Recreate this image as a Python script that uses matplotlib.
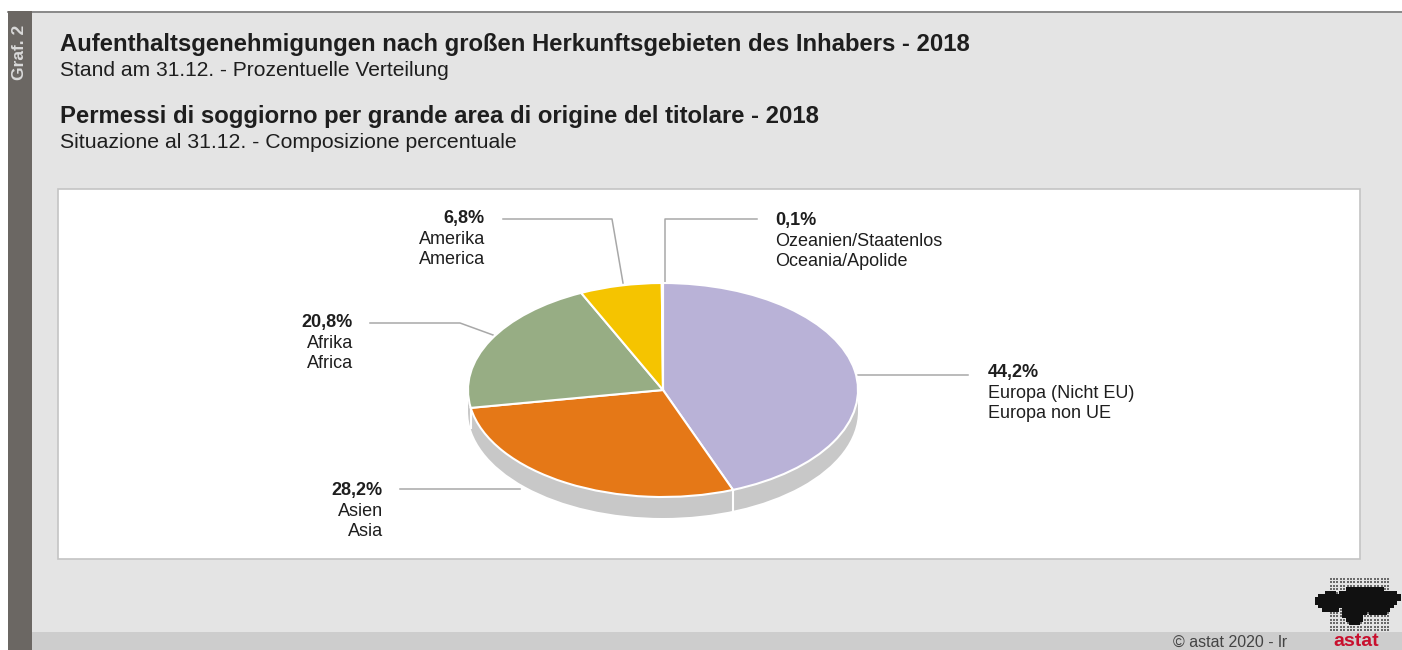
import matplotlib
matplotlib.use("Agg")
import matplotlib.pyplot as plt
from matplotlib.patches import Rectangle, Ellipse
import numpy as np

# ---------------- data ----------------
shares = [44.2, 28.2, 20.8, 6.8, 0.1]
pct_labels = ["44,2%", "28,2%", "20,8%", "6,8%", "0,1%"]
names_de = ["Europa (Nicht EU)", "Asien", "Afrika", "Amerika", "Ozeanien/Staatenlos"]
names_it = ["Europa non UE", "Asia", "Africa", "America", "Oceania/Apolide"]
colors = ["#B9B2D7", "#E57817", "#97AD84", "#F5C400", "#4A6FA5"]

title_de = "Aufenthaltsgenehmigungen nach großen Herkunftsgebieten des Inhabers - 2018"
sub_de = "Stand am 31.12. - Prozentuelle Verteilung"
title_it = "Permessi di soggiorno per grande area di origine del titolare - 2018"
sub_it = "Situazione al 31.12. - Composizione percentuale"

W, H = 1402, 650
FONT = "Liberation Sans"
plt.rcParams["font.family"] = [FONT, "DejaVu Sans"]

fig = plt.figure(figsize=(W / 100, H / 100), dpi=100)
fig.patch.set_facecolor("white")
bg = fig.add_axes([0, 0, 1, 1])
bg.set_xlim(0, W)
bg.set_ylim(H, 0)
bg.axis("off")

# page background
bg.add_patch(Rectangle((8, 11), W - 8, H - 11, facecolor="#E4E4E4", edgecolor="none", zorder=0))
bg.plot([8, W], [11.5, 11.5], color="#7A7A7A", lw=1.2, zorder=1)
bg.add_patch(Rectangle((32, 632), W - 32, H - 632, facecolor="#CDCDCD", edgecolor="none", zorder=1))
bg.add_patch(Rectangle((8, 11), 24, H - 11, facecolor="#6B6763", edgecolor="none", zorder=2))
bg.text(20, 52, "Graf. 2", rotation=90, ha="center", va="center", color="#DADADA",
        fontsize=12.5, fontweight="bold", zorder=3)
# white chart box
bg.add_patch(Rectangle((58, 189), 1302, 370, facecolor="white", edgecolor="#C4C4C4", lw=1.2, zorder=1))

renderer = fig.canvas.get_renderer()


def fit(t, target_w):
    w = t.get_window_extent(renderer).width
    t.set_fontsize(t.get_fontsize() * target_w / w)


txt_col = "#1E1E1E"
t1 = bg.text(60, 45, title_de, fontsize=15, fontweight="bold", color=txt_col, va="center", ha="left")
fit(t1, 913)
s1 = bg.text(60, 70, sub_de, fontsize=12, color=txt_col, va="center", ha="left")
fit(s1, 390)
t2 = bg.text(60, 117, title_it, fontsize=15, fontweight="bold", color=txt_col, va="center", ha="left")
fit(t2, 762)
s2 = bg.text(60, 142, sub_it, fontsize=12, color=txt_col, va="center", ha="left")
fit(s2, 458)

# ---------------- pie ----------------
cx, cy, a, b, thick = 663, 390, 195, 107, 21
axp = fig.add_axes([(cx - a) / W, 1 - (cy + b) / H, 2 * a / W, 2 * b / H])
wedges, _ = axp.pie(shares, colors=colors, startangle=90, counterclock=False, radius=1,
                    wedgeprops=dict(edgecolor="white", linewidth=1.5))
axp.set_aspect("auto")
axp.set_xlim(-1, 1)
axp.set_ylim(-1, 1)
axp.axis("off")
tt = thick / b
side_col = "#C8C8C8"
axp.add_patch(Ellipse((0, -tt), 2, 2, facecolor=side_col, edgecolor="none", zorder=0, clip_on=False))
axp.add_patch(Rectangle((-1, -tt), 2, tt, facecolor=side_col, edgecolor="none", zorder=0, clip_on=False))
for w_ in wedges:
    w_.set_zorder(2)
    w_.set_clip_on(False)
# white separators on the side
bounds = 90 - np.cumsum([0] + shares) * 3.6
for ang in bounds:
    th = np.deg2rad(ang)
    if np.sin(th) < -0.05:
        axp.plot([np.cos(th)] * 2, [np.sin(th), np.sin(th) - tt], color="white", lw=1.5,
                 zorder=1, clip_on=False)

# ---------------- labels ----------------
line_col = "#A8A8A8"
fs = 13
# (label x, y of pct line, alignment, leader polyline)
layout = {
    0: (988, 373, "left", [(858, 375), (968, 375)]),
    1: (383, 490, "right", [(400, 489), (520, 489)]),
    2: (353, 323, "right", [(370, 323), (460, 323), (493, 335)]),
    3: (485, 219, "right", [(503, 219), (612, 219), (623, 283)]),
    4: (775, 220, "left", [(665, 286), (665, 219), (757, 219)]),
}
for i, (lx, ly, ha, pts) in layout.items():
    xs, ys = zip(*pts)
    bg.plot(xs, ys, color=line_col, lw=1.1, zorder=4)
    bg.text(lx, ly, pct_labels[i], ha=ha, va="center", fontsize=fs, fontweight="bold", color=txt_col, zorder=5)
    bg.text(lx, ly + 21, names_de[i], ha=ha, va="center", fontsize=fs, color=txt_col, zorder=5)
    bg.text(lx, ly + 41, names_it[i], ha=ha, va="center", fontsize=fs, color=txt_col, zorder=5)

# ---------------- footer / logo ----------------
bg.text(1173, 642, "\u00a9 astat 2020 - lr", ha="left", va="center", fontsize=11.5, color="#444444", zorder=5)
bg.text(1356, 641, "astat", ha="center", va="center", fontsize=14, fontweight="bold", color="#C8102E", zorder=5)

gx = np.arange(1317, 1399, 3.4)
gy = np.arange(579, 633, 3.4)
GX, GY = np.meshgrid(gx, gy)


def ell(x0, y0, rx, ry):
    return (((GX - x0) / rx) ** 2 + ((GY - y0) / ry) ** 2) <= 1.0


inner = ell(1330, 602, 14, 10) | ell(1364, 600, 32, 13) | ell(1390, 598, 9, 8) \
    | ell(1354, 613, 11, 12) | ell(1379, 607, 11, 9)
outer = (GX >= 1329) & (GX <= 1390)
grey = outer & ~inner
bg.scatter(GX[grey], GY[grey], s=2.6, marker="s", color="#6A6A6A", lw=0, zorder=5)
bg.scatter(GX[inner], GY[inner], s=8, marker="s", color="#111111", lw=0, zorder=5)

fig.savefig("out.png", dpi=100, facecolor="white")
